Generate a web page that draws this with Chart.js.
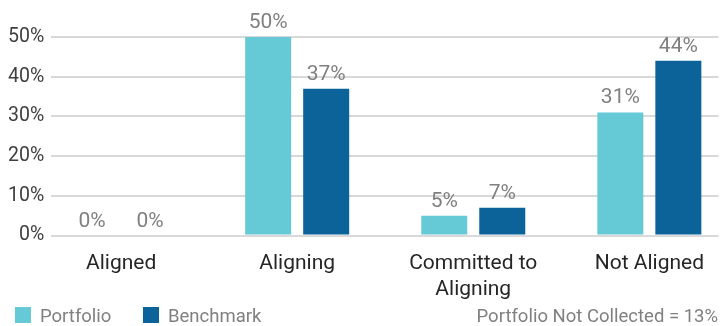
<!DOCTYPE html>
<html>
<head>
<meta charset="utf-8">
<script src="https://cdn.jsdelivr.net/npm/chart.js@4"></script>
<style>
  html, body { margin: 0; padding: 0; background: #fff; overflow: hidden; }
  #wrap { width: 720px; height: 326px; position: relative; }
</style>
</head>
<body>
<div id="wrap"><canvas id="chart"></canvas></div>
<script>
const categories = ["Aligned", "Aligning", ["Committed to", "Aligning"], "Not Aligned"];
const portfolio = [0, 50, 5, 31];
const benchmark = [0, 37, 7, 44];
const yTicks = [0, 10, 20, 30, 40, 50];
const footnote = "Portfolio Not Collected = 13%";

const TEAL = "#65c9d6";
const NAVY = "#0b6399";
const FONT = "Roboto";

// value labels above each bar
const barLabels = {
  id: "barLabels",
  afterDatasetsDraw(chart) {
    const ctx = chart.ctx;
    ctx.save();
    ctx.font = `21px ${FONT}`;
    ctx.fillStyle = "#808080";
    ctx.textAlign = "center";
    ctx.textBaseline = "alphabetic";
    chart.data.datasets.forEach((ds, di) => {
      chart.getDatasetMeta(di).data.forEach((bar, i) => {
        ctx.fillText(`${ds.data[i].y}%`, bar.x, bar.y - 9);
      });
    });
    ctx.restore();
  },
};

// legend row along the bottom plus the note on the right
const bottomRow = {
  id: "bottomRow",
  afterDraw(chart) {
    const ctx = chart.ctx;
    ctx.save();
    ctx.font = `18.5px ${FONT}`;
    ctx.textBaseline = "alphabetic";
    const items = [
      { x: 15, ds: chart.data.datasets[0] },
      { x: 143, ds: chart.data.datasets[1] },
    ];
    items.forEach(({ x, ds }) => {
      ctx.fillStyle = ds.backgroundColor;
      ctx.fillRect(x, 307, 16, 16);
      ctx.fillStyle = "#808080";
      ctx.textAlign = "left";
      ctx.fillText(ds.label, x + 25, 322);
    });
    ctx.fillStyle = "#808080";
    ctx.textAlign = "right";
    ctx.fillText(footnote, 718, 322);
    ctx.restore();
  },
};

new Chart(document.getElementById("chart"), {
  type: "bar",
  data: {
    datasets: [
      {
        label: "Portfolio",
        data: portfolio.map((v, i) => ({ x: i, y: v })),
        backgroundColor: TEAL,
      },
      {
        label: "Benchmark",
        data: benchmark.map((v, i) => ({ x: i, y: v })),
        backgroundColor: NAVY,
      },
    ],
  },
  options: {
    responsive: true,
    maintainAspectRatio: false,
    animation: false,
    categoryPercentage: 0.659,
    barPercentage: 0.793,
    layout: { padding: { top: 37, left: 1, right: 0, bottom: 8 } },
    plugins: {
      legend: { display: false },
      tooltip: { enabled: false },
    },
    scales: {
      x: {
        type: "linear",
        offset: false,
        min: -0.397,
        max: 3.393,
        afterBuildTicks: (scale) => {
          scale.ticks = categories.map((_, i) => ({ value: i }));
        },
        grid: { display: false, drawTicks: false },
        border: { display: false },
        ticks: {
          autoSkip: false,
          maxRotation: 0,
          padding: 16,
          color: "#262626",
          font: { family: FONT, size: 21 },
          callback: (value) => categories[value],
        },
      },
      y: {
        min: 0,
        max: 50,
        afterBuildTicks: (scale) => {
          scale.ticks = yTicks.map((v) => ({ value: v }));
        },
        grid: { color: "#d9d9d9", lineWidth: 2, drawTicks: false },
        border: { display: false },
        ticks: {
          padding: 7,
          color: "#404040",
          font: { family: FONT, size: 19.5 },
          callback: (value) => `${value}%`,
        },
      },
    },
  },
  plugins: [barLabels, bottomRow],
});
</script>
</body>
</html>
